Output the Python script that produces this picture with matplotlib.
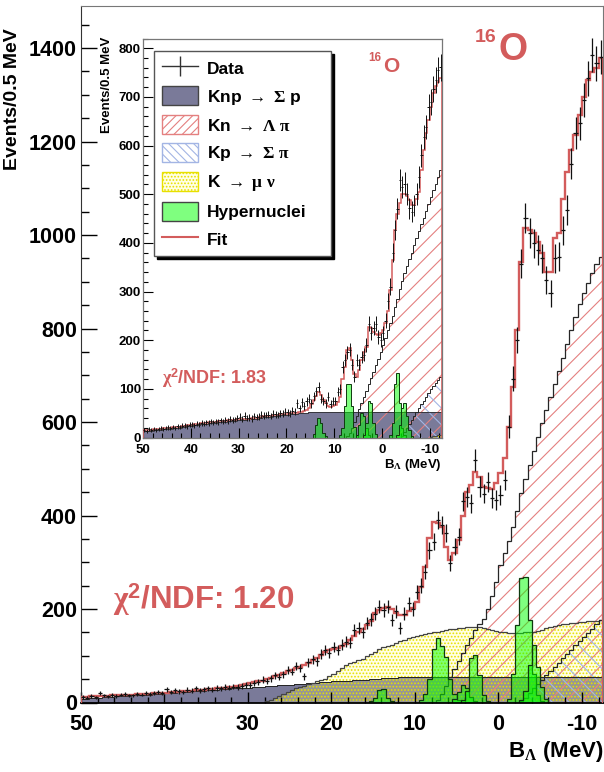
import matplotlib

matplotlib.use("Agg")
import matplotlib.pyplot as plt
import numpy as np
from matplotlib.lines import Line2D
from matplotlib.patches import Patch
from matplotlib.ticker import MultipleLocator

plt.rcParams["font.family"] = ["Liberation Sans", "DejaVu Sans"]
plt.rcParams["font.weight"] = "bold"
plt.rcParams["axes.unicode_minus"] = False
plt.rcParams["mathtext.fontset"] = "custom"
plt.rcParams["mathtext.rm"] = "Liberation Serif"
plt.rcParams["mathtext.it"] = "Liberation Serif:italic"
plt.rcParams["mathtext.bf"] = "Liberation Sans:bold"
plt.rcParams["hatch.linewidth"] = 0.8

# binning: 0.5 MeV bins, B_Lambda runs from 50 down to -12.5
BIN = 0.5
X_LEFT, X_RIGHT = 50.0, -12.5

# ---------------- main spectrum (bins from 49.75 down to -12.25) ----------------
main_fit = [
    12, 12, 13, 13, 13, 14, 14, 15, 15, 16,
    16, 17, 17, 18, 18, 19, 19, 20, 20, 21,
    21, 22, 22, 23, 24, 24, 25, 26, 27, 27,
    28, 29, 30, 31, 32, 33, 34, 36, 37, 39,
    41, 43, 45, 47, 50, 53, 56, 59, 63, 67,
    70, 73, 77, 80, 84, 90, 96, 102, 108, 112,
    114, 116, 120, 126, 134, 142, 150, 158, 166, 175,
    191, 198, 203, 205, 200, 192, 188, 187, 195, 202,
    216, 248, 290, 352, 387, 385, 376, 333, 305, 319,
    348, 400, 451, 465, 494, 483, 460, 458, 457, 470,
    491, 522, 590, 676, 797, 943, 1015, 1010, 1004, 985,
    961, 921, 921, 993, 1004, 1078, 1135, 1182, 1214, 1257,
    1296, 1332, 1349, 1357, 1378,
]
main_data = [
    12, 10, 14, 11, 20, 15, 13, 16, 14, 17,
    18, 15, 15, 19, 17, 20, 18, 21, 22, 20,
    28, 22, 26, 24, 23, 27, 25, 30, 26, 28,
    30, 27, 31, 30, 33, 32, 34, 33, 35, 37,
    38, 42, 44, 49, 46, 52, 58, 55, 60, 70,
    66, 78, 74, 56, 86, 92, 88, 104, 112, 106,
    118, 112, 124, 130, 128, 155, 159, 150, 170, 178,
    190, 205, 198, 205, 176, 195, 159, 190, 212, 200,
    237, 250, 280, 326, 344, 390, 380, 362, 298, 333,
    355, 430, 440, 426, 519, 462, 447, 472, 437, 433,
    444, 476, 590, 693, 775, 939, 1036, 1004, 982, 968,
    950, 904, 875, 950, 954, 1010, 1053, 1153, 1218, 1239,
    1289, 1335, 1385, 1367, 1381,
]
main_knp = [
    8, 8, 9, 10, 10, 11, 11, 12, 13, 13,
    14, 14, 15, 16, 16, 17, 17, 18, 19, 19,
    20, 21, 21, 22, 22, 23, 24, 24, 25, 25,
    26, 27, 27, 28, 29, 29, 30, 30, 31, 32,
    32, 33, 33, 34, 35, 35, 36, 37, 37, 38,
    38, 39, 40, 40, 41, 41, 42, 43, 43, 44,
    45, 45, 46, 46, 47, 48, 48, 49, 49, 50,
    51, 51, 52, 52, 53, 53, 54, 54, 54, 55,
    55, 55, 55, 55, 55, 55, 55, 55, 55, 55,
    55, 55, 55, 55, 55, 55, 55, 55, 55, 55,
    55, 55, 55, 55, 55, 55, 55, 55, 55, 55,
    55, 55, 55, 55, 55, 55, 55, 55, 55, 55,
    55, 55, 55, 55, 55,
]
# K -> mu nu, histogram starts at B = 35
main_kmu_start = 35.0
main_kmu = [
    0, 0, 0, 0, 0, 0, 0, 0, 0, 0,
    0, 0, 0, 0, 3, 6, 10, 14, 18, 22,
    26, 30, 33, 36, 39, 42, 45, 48, 51, 56,
    62, 68, 74, 80, 84, 87, 90, 94, 99, 104,
    109, 114, 118, 121, 124, 128, 131, 134, 137, 140,
    142, 144, 146, 148, 150, 151, 153, 155, 157, 158,
    159, 160, 161, 161, 161, 161, 160, 158, 156, 154,
    151, 150, 149, 149, 149, 149, 150, 150, 151, 153,
    156, 159, 162, 164, 165, 167, 168, 170, 171, 172,
    173, 174, 175, 175, 176,
]
main_kn_start = 7.5
main_kn = [
    5, 18, 35, 55, 72, 88, 105, 122, 138, 155,
    168, 178, 200, 228, 258, 295, 320, 345, 375, 410,
    448, 478, 508, 538, 568, 598, 626, 653, 681, 710,
    738, 767, 796, 825, 852, 875, 897, 918, 937, 953,
]
main_kp_start = -2.5
main_kp = [3, 10, 20, 30, 40, 49, 58, 67, 76, 85,
           95, 104, 113, 122, 131, 140, 149, 158, 167, 176]
# hypernuclear peaks: (first bin edge, contents)
main_peaks = [
    (15.5, [3, 10, 27, 28, 10, 3]),
    (9.5, [5, 18, 50, 115, 137, 120, 98, 50, 18, 5]),
    (5.5, [8, 22, 38, 30, 12, 4]),
    (4.5, [5, 25, 95, 102, 58, 15, 4]),
    (-1.0, [8, 60, 166, 266, 269, 176, 60, 15, 4]),
    (-2.5, [5, 25, 80, 123, 77, 34, 8]),
]

# ---------------- inset spectrum ----------------
ins_fit = [
    15, 15, 16, 16, 17, 17, 18, 18, 19, 19,
    20, 20, 21, 21, 22, 22, 23, 24, 25, 25,
    26, 27, 27, 28, 29, 29, 30, 31, 31, 32,
    32, 33, 33, 34, 34, 35, 35, 36, 36, 37,
    37, 38, 38, 39, 39, 40, 41, 41, 42, 43,
    44, 44, 45, 45, 46, 47, 47, 48, 48, 49,
    49, 50, 50, 51, 51, 52, 53, 55, 57, 60,
    68, 77, 85, 94, 88, 77, 70, 65, 63, 64,
    66, 72, 84, 120, 145, 180, 183, 160, 130, 125,
    139, 159, 175, 186, 228, 225, 217, 212, 210, 215,
    220, 235, 260, 303, 364, 426, 460, 481, 501, 500,
    497, 488, 477, 477, 490, 505, 549, 590, 625, 652,
    680, 707, 722, 730, 738,
]
ins_data = [
    15, 14, 17, 15, 18, 16, 18, 19, 17, 20,
    21, 19, 22, 20, 23, 22, 24, 25, 23, 26,
    27, 25, 28, 27, 30, 28, 31, 30, 33, 31,
    33, 32, 35, 33, 36, 34, 38, 36, 37, 40,
    43, 38, 45, 40, 41, 39, 44, 42, 43, 47,
    45, 46, 47, 44, 49, 48, 46, 50, 49, 53,
    52, 50, 55, 53, 70, 60, 72, 65, 74, 80,
    70, 85, 95, 104, 80, 75, 70, 84, 68, 75,
    75, 94, 100, 145, 159, 175, 180, 150, 125, 159,
    150, 165, 170, 190, 234, 215, 225, 234, 207, 200,
    215, 240, 280, 310, 380, 426, 470, 529, 515, 522,
    501, 471, 464, 477, 501, 535, 580, 618, 638, 679,
    690, 717, 735, 755, 761,
]
ins_knp = [
    13, 13, 14, 14, 15, 15, 16, 16, 17, 17,
    18, 18, 19, 19, 20, 20, 21, 22, 23, 23,
    24, 25, 25, 26, 27, 27, 28, 29, 29, 30,
    30, 31, 31, 32, 32, 33, 33, 34, 34, 35,
    35, 36, 36, 37, 37, 38, 39, 39, 40, 41,
    42, 42, 43, 43, 44, 45, 45, 46, 46, 47,
    47, 48, 48, 49, 49, 50, 50, 51, 51, 52,
    52, 52, 52, 52, 52, 52, 52, 52, 52, 52,
    52, 52, 52, 52, 52, 52, 52, 52, 52, 52,
    52, 52, 52, 52, 52, 52, 52, 52, 52, 52,
    52, 52, 52, 52, 52, 52, 52, 52, 52, 52,
    52, 52, 52, 52, 52, 52, 52, 52, 52, 52,
    52, 52, 52, 52, 52,
]
ins_kmu_start = -10.0
ins_kmu = [2, 3, 4, 5, 6]
ins_kn_start = 7.5
ins_kn = [
    3, 10, 20, 32, 45, 58, 70, 83, 96, 110,
    122, 135, 148, 162, 175, 190, 205, 220, 235, 250,
    268, 285, 305, 322, 338, 352, 366, 380, 395, 410,
    424, 438, 452, 466, 480, 494, 508, 522, 536, 550,
]
ins_kp_start = -4.0
ins_kp = [4, 12, 20, 28, 36, 44, 52, 60, 68, 76, 84, 92, 99, 106, 113, 119, 125]
ins_peaks = [
    (14.5, [8, 25, 41, 30, 10, 3]),
    (9.0, [5, 20, 65, 110, 110, 65, 22, 6]),
    (5.5, [5, 25, 50, 45, 20, 5]),
    (4.0, [5, 30, 74, 70, 30, 8]),
    (-1.5, [5, 30, 110, 132, 70, 20, 5]),
    (-3.0, [5, 25, 60, 71, 45, 15, 4]),
]

DARK = "#7a7a99"
RED = "#d35c5c"
RED_HATCH = "#e48080"
BLUE_HATCH = "#a3b5e4"
YELLOW_DOT = "#e8e000"
YELLOW_FACE = (1.0, 1.0, 0.5, 0.22)
GREEN = (0.0, 1.0, 0.0, 0.5)
OUTLINE = "#262626"

W, H = 604, 772


def fx(x):
    return x / W


def fy(y):
    return 1 - y / H


def bin_edges(start, values):
    return start - BIN * np.arange(len(values) + 1)


def draw_spectrum(ax, fit, data, knp, kmu, kn, kp, peaks, fit_lw, line_lw, ms):
    edges = bin_edges(X_LEFT, fit)
    ax.stairs(knp, edges, fill=True, facecolor=DARK, edgecolor="none", lw=0, zorder=1)
    ax.stairs(knp, edges, color=OUTLINE, lw=line_lw * 0.8, zorder=1.6)

    e = bin_edges(kmu[0], kmu[1])
    ax.stairs(kmu[1], e, fill=True, facecolor=YELLOW_FACE, edgecolor=YELLOW_DOT,
              hatch=".....", lw=0, zorder=1.1)
    ax.stairs(kmu[1], e, color="#444444", lw=line_lw, zorder=1.6)

    e = bin_edges(kn[0], kn[1])
    ax.stairs(kn[1], e, fill=True, facecolor="none", edgecolor=RED_HATCH,
              hatch="//", lw=0, zorder=1.2)
    ax.stairs(kn[1], e, color=OUTLINE, lw=line_lw, zorder=1.6)

    e = bin_edges(kp[0], kp[1])
    ax.stairs(kp[1], e, fill=True, facecolor="none", edgecolor=BLUE_HATCH,
              hatch="\\\\", lw=0, zorder=1.3)
    ax.stairs(kp[1], e, color=OUTLINE, lw=line_lw, zorder=1.6)

    for start, vals in peaks:
        ax.stairs(vals, bin_edges(start, vals), fill=True, facecolor=GREEN,
                  edgecolor="#0e3a0e", lw=line_lw, zorder=2)

    ax.stairs(fit, edges, color=RED, lw=fit_lw, zorder=3)

    centers = edges[:-1] - BIN / 2
    data = np.asarray(data, dtype=float)
    ax.errorbar(centers, data, xerr=BIN / 2, yerr=np.sqrt(data), fmt="none",
                ecolor="#111111", elinewidth=ms, capsize=0, zorder=4)


fig = plt.figure(figsize=(W / 100, H / 100), dpi=100)

# ---------------- main panel ----------------
ax = fig.add_axes([fx(81), fy(702.5), (602.7 - 81) / W, (702.5 - 6) / H])
draw_spectrum(ax, main_fit, main_data, main_knp,
              (main_kmu_start, main_kmu), (main_kn_start, main_kn),
              (main_kp_start, main_kp), main_peaks, 1.7, 0.9, 0.9)
ax.set_xlim(X_LEFT, X_RIGHT)
ax.set_ylim(0, 1490)
ax.xaxis.set_major_locator(MultipleLocator(10))
ax.xaxis.set_minor_locator(MultipleLocator(2))
ax.yaxis.set_major_locator(MultipleLocator(200))
ax.yaxis.set_minor_locator(MultipleLocator(50))
ax.tick_params(axis="y", which="major", direction="in", length=11.5, width=1,
               labelsize=15.5, pad=3)
ax.tick_params(axis="y", which="minor", direction="in", length=5.5, width=1)
ax.tick_params(axis="x", which="major", direction="in", length=8, width=1,
               labelsize=15.5, pad=8.5)
ax.tick_params(axis="x", which="minor", direction="in", length=4, width=1)
for side in ("top", "right"):
    ax.spines[side].set_color("#777777")
ax.spines["left"].set_color("#333333")
ax.spines["bottom"].set_color("black")
ax.spines["bottom"].set_linewidth(1.3)

# ---------------- inset panel ----------------
axi = fig.add_axes([fx(143), fy(437.5), (441.7 - 143) / W, (437.5 - 38.5) / H], zorder=5)
axi.set_facecolor("white")
draw_spectrum(axi, ins_fit, ins_data, ins_knp,
              (ins_kmu_start, ins_kmu), (ins_kn_start, ins_kn),
              (ins_kp_start, ins_kp), ins_peaks, 1.1, 0.7, 0.7)
axi.set_xlim(X_LEFT, X_RIGHT)
axi.set_ylim(0, 820)
axi.xaxis.set_major_locator(MultipleLocator(10))
axi.xaxis.set_minor_locator(MultipleLocator(2))
axi.yaxis.set_major_locator(MultipleLocator(100))
axi.yaxis.set_minor_locator(MultipleLocator(20))
axi.tick_params(axis="both", which="major", direction="in", length=7, width=0.8,
                labelsize=9.5)
axi.tick_params(axis="both", which="minor", direction="in", length=3.5, width=0.8)
axi.tick_params(axis="y", pad=1.5)
axi.tick_params(axis="x", pad=5)
for side in axi.spines:
    axi.spines[side].set_color("#777777")
    axi.spines[side].set_linewidth(0.9)

handles = [
    Line2D([0], [0], color="#333333", lw=1, marker="|", markersize=15, markeredgewidth=1),
    Patch(facecolor=DARK, edgecolor="#444444"),
    Patch(facecolor="white", edgecolor=RED_HATCH, hatch="////"),
    Patch(facecolor="white", edgecolor=BLUE_HATCH, hatch="\\\\\\\\"),
    Patch(facecolor=YELLOW_FACE, edgecolor=YELLOW_DOT, hatch="....."),
    Patch(facecolor=GREEN, edgecolor="#444444"),
    Line2D([0], [0], color=RED, lw=1.5),
]
labels = [
    "Data",
    r"Knp $\rightarrow$ $\mathrm{\Sigma}$ p",
    r"Kn $\rightarrow$ $\mathrm{\Lambda}$ $\mathrm{\pi}$",
    r"Kp $\rightarrow$ $\mathrm{\Sigma}$ $\mathrm{\pi}$",
    r"K $\rightarrow$ $\mathrm{\mu}$ $\mathrm{\nu}$",
    "Hypernuclei",
    "Fit",
]
leg = axi.legend(handles, labels, loc="upper left",
                 bbox_to_anchor=(fx(154), fy(257), (331 - 154) / W, (257 - 51) / H),
                 bbox_transform=fig.transFigure, mode="expand",
                 prop={"weight": "bold", "size": 12.5}, fancybox=False,
                 shadow={"color": "black", "alpha": 1.0}, framealpha=1,
                 handlelength=2.1, handleheight=1.3, handletextpad=0.5,
                 labelspacing=0.5, borderpad=0.45, borderaxespad=0)
leg.get_frame().set_edgecolor("#555555")
leg.get_frame().set_linewidth(1.0)

# ---------------- texts ----------------
fig.text(fx(13), fy(28), "Events/0.5 MeV", rotation=90, ha="center", va="top", fontsize=14)
fig.text(fx(107), fy(37), "Events/0.5 MeV", rotation=90, ha="center", va="top", fontsize=9.5)
fig.text(fx(603), fy(752), r"B$_{\mathrm{\Lambda}}$ (MeV)", ha="right", va="center", fontsize=16)
fig.text(fx(442), fy(465), r"B$_{\mathrm{\Lambda}}$ (MeV)", ha="right", va="center", fontsize=9.5)

fig.text(fx(486), fy(37), "16", ha="center", va="center", fontsize=14, color=RED)
fig.text(fx(513), fy(50), "O", ha="center", va="center", fontsize=27, color=RED)
fig.text(fx(375), fy(58), "16", ha="center", va="center", fontsize=8.5, color=RED, zorder=10)
fig.text(fx(391), fy(66), "O", ha="center", va="center", fontsize=15, color=RED, zorder=10)

fig.text(fx(113), fy(600), r"$\mathrm{\chi}^{\mathbf{2}}$/NDF: 1.20", ha="left", va="center",
         fontsize=22.5, color=RED)
fig.text(fx(162), fy(378), r"$\mathrm{\chi}^{\mathbf{2}}$/NDF: 1.83", ha="left", va="center",
         fontsize=13, color=RED, zorder=10)

fig.savefig("out.png", dpi=100)
plt.close(fig)
